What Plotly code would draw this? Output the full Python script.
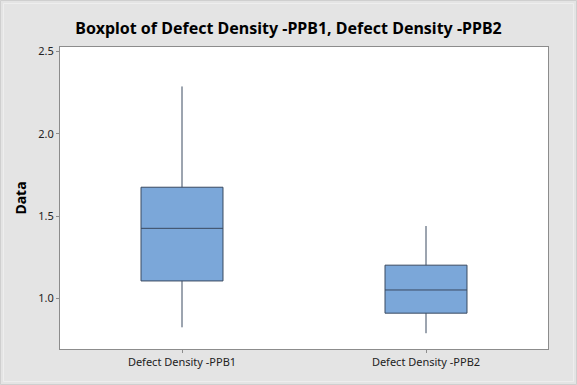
import plotly.graph_objects as go

categories = ["Defect Density -PPB1", "Defect Density -PPB2"]
q1 = [1.105, 0.909]
median = [1.425, 1.05]
q3 = [1.675, 1.201]
lowerfence = [0.823, 0.787]
upperfence = [2.288, 1.439]

W, H = 577, 385
ML, MR, MT, MB = 60, 29, 47, 36
PW, PH = W - ML - MR, H - MT - MB

fig = go.Figure()
fig.add_trace(go.Box(
    x=categories,
    q1=q1, median=median, q3=q3,
    lowerfence=lowerfence, upperfence=upperfence,
    width=0.336,
    whiskerwidth=0,
    fillcolor="#7BA7D9",
    line=dict(color="#3A4A60", width=1),
    boxpoints=False,
    hoverinfo="skip",
))

def px_rect(x0, y0, x1, y1, color):
    return dict(
        type="rect", xref="paper", yref="paper", layer="below",
        x0=(x0 - ML) / PW, x1=(x1 - ML) / PW,
        y0=(H - MB - y1) / PH, y1=(H - MB - y0) / PH,
        line=dict(color=color, width=1), fillcolor="rgba(0,0,0,0)",
    )

fig.update_layout(
    width=W, height=H,
    paper_bgcolor="#E4E4E4",
    plot_bgcolor="#FFFFFF",
    margin=dict(l=ML, r=MR, t=MT, b=MB, autoexpand=False),
    showlegend=False,
    shapes=[
        px_rect(0.5, 0.5, W - 0.5, H - 0.5, "#CFCFCF"),
        px_rect(3.5, 3.5, W - 3.5, H - 3.5, "#EEEEEE"),
    ],
    title=dict(
        text="<b>Boxplot of Defect Density -PPB1, Defect Density -PPB2</b>",
        x=0.5, xanchor="center", y=1 - 28/385, yanchor="middle",
        font=dict(family="Noto Sans", size=16, color="#000000"),
    ),
    font=dict(family="Noto Sans", size=11, color="#222222"),
)
fig.update_xaxes(
    range=[-0.5, 1.5], automargin=False,
    showline=True, linecolor="#8C8C8C", linewidth=1, mirror=True,
    ticks="outside", ticklen=3, tickcolor="#8C8C8C",
    showgrid=False, zeroline=False,
    tickfont=dict(size=11, color="#222222"),
)
fig.update_yaxes(
    range=[0.691, 2.528], automargin=False,
    tickvals=[1.0, 1.5, 2.0, 2.5],
    ticktext=["1.0", "1.5", "2.0", "2.5"],
    showline=True, linecolor="#8C8C8C", linewidth=1, mirror=True,
    ticks="outside", ticklen=3, tickcolor="#8C8C8C",
    showgrid=False, zeroline=False,
    tickfont=dict(size=11, color="#222222"),
    title=dict(text="<b>Data</b>", font=dict(size=14, color="#000000"), standoff=8),
)

fig.write_html(
    "out.html",
    config={"displayModeBar": False},
    post_script="document.body.style.margin='0';document.body.style.overflow='hidden';",
)
